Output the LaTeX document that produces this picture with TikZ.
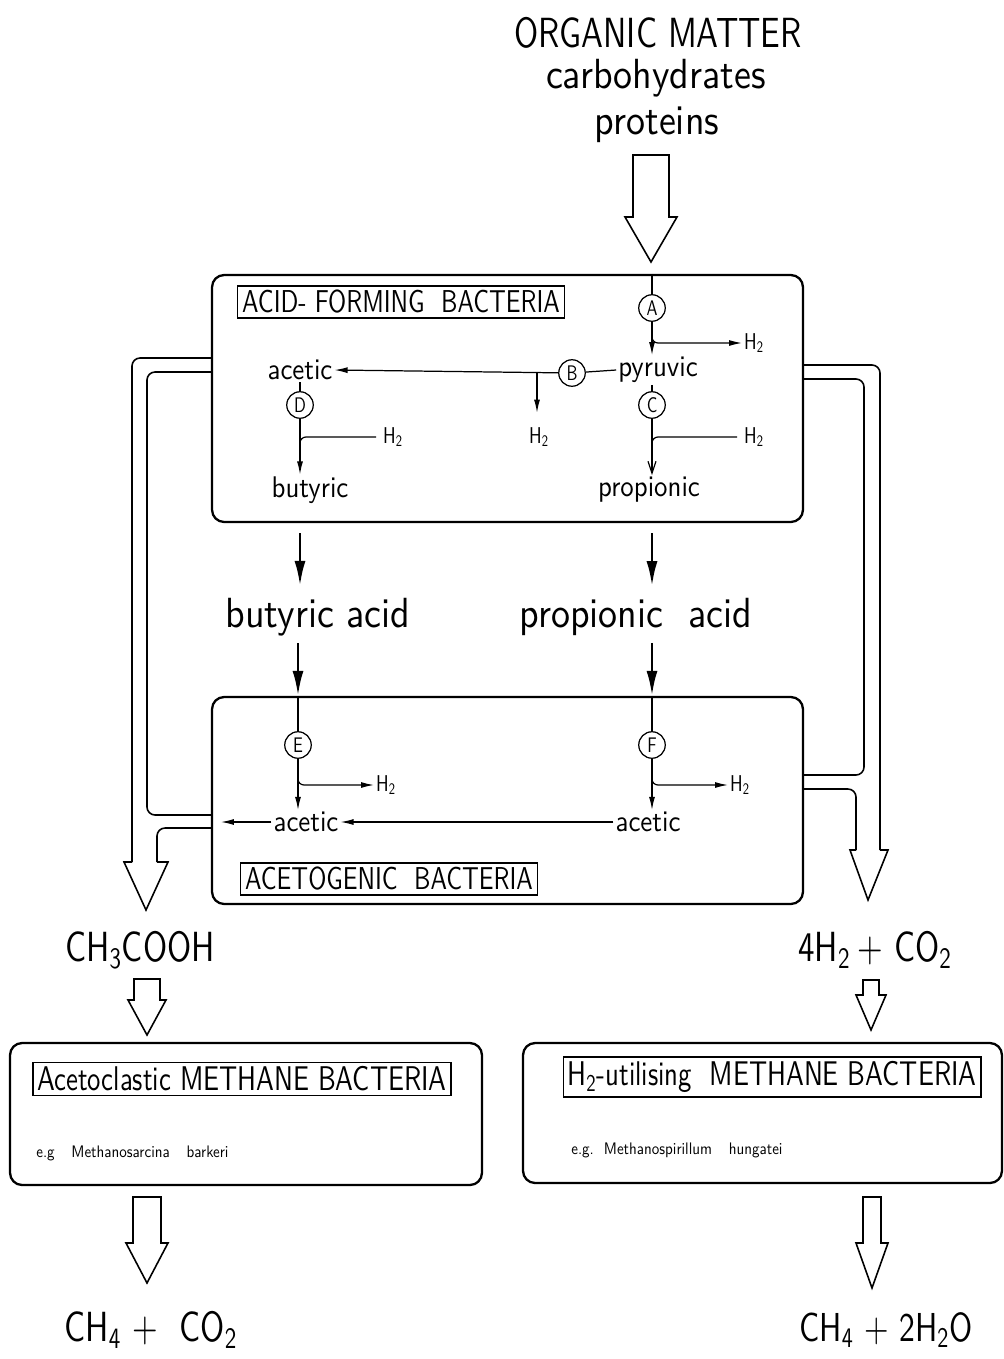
\documentclass[tikz,border=0pt]{standalone}
\usepackage{fontspec}
\setmainfont{lmsans10-regular.otf}[FakeStretch=0.9]
\newfontfamily\narrowfont{lmsans10-regular.otf}[FakeStretch=0.78]
\usetikzlibrary{arrows.meta,positioning,calc}
\newcommand\fs[1]{\fontsize{#1}{#1}\selectfont}
% hollow block arrow: x, top, head base, tip, half shaft, half head
\newcommand\fatarrow[6]{%
  \draw[fatline] (#1-#5,#2) -- (#1+#5,#2) -- (#1+#5,#3) -- (#1+#6,#3) -- (#1,#4)
    -- (#1-#6,#3) -- (#1-#5,#3) -- cycle;}
\tikzset{
  stagebox/.style={draw, line width=1.3pt, rounded corners=2.4mm, inner sep=0pt},
  titlebox/.style={draw, line width=0.7pt, font=\narrowfont\fs{18}, inner sep=2.5pt},
  enzyme/.style={draw, circle, line width=0.7pt, minimum size=5.3mm, inner sep=0pt, font=\narrowfont\fs{12}},
  chem/.style={font=\fs{17}, inner sep=1pt},
  htwo/.style={font=\narrowfont\fs{13}, inner sep=1pt},
  bigtext/.style={font=\fs{24}, inner sep=1pt},
  bigcaps/.style={font=\narrowfont\fs{24}, inner sep=1pt},
  example/.style={font=\fs{9.5}, inner sep=0pt},
  flow/.style={-{Latex[length=2.6mm,width=1.2mm]}, line width=0.7pt},
  plainflow/.style={line width=0.7pt},
  barbflow/.style={-{Straight Barb[length=2.4mm,width=1.6mm]}, line width=0.7pt},
  boldflow/.style={-{Latex[length=5mm,width=2.2mm]}, line width=1.6pt},
  pipe/.style={line width=0.9pt, rounded corners=1.6mm},
  fatline/.style={line width=0.9pt, line join=miter}
}
\begin{document}
\begin{tikzpicture}[x=0.02cm, y=-0.02cm]
  \useasboundingbox (0,0) rectangle (1004,1359);

  % feed
  \node[bigcaps, anchor=base] (organic) at (658,47) {ORGANIC MATTER};
  \node[bigtext, anchor=base] (carbo) at (656,88) {carbohydrates};
  \node[bigtext, anchor=base] (proteins) at (657,134) {proteins};
  \fatarrow{651}{155}{217}{262}{18}{26}

  % acid-forming stage
  \node[stagebox, minimum width=11.82cm, minimum height=4.94cm] (acidbox) at (507.5,398.5) {};
  \node[titlebox] (acidlabel) at (401,302) {ACID- FORMING\ \ BACTERIA};
  \node[enzyme] (enzA) at (652,308) {A};
  \node[chem] (pyruvic) at (658,370) {pyruvic};
  \node[enzyme] (enzB) at (572,373) {B};
  \node[chem] (aceticA) at (300,370) {acetic};
  \node[enzyme] (enzD) at (300,405) {D};
  \node[chem] (butyricA) at (310,490) {butyric};
  \node[enzyme] (enzC) at (652,405) {C};
  \node[chem] (propionicA) at (649,490) {propionic};
  \node[htwo] (hA) at (754,343) {H\textsubscript{2}};
  \node[htwo] (hB) at (539,437) {H\textsubscript{2}};
  \node[htwo] (hD) at (393,437) {H\textsubscript{2}};
  \node[htwo] (hC) at (754,437) {H\textsubscript{2}};
  \coordinate (bsplit) at (537,373);

  \draw[plainflow] (enzA.north |- acidbox.north) -- (enzA);
  \draw[flow] (enzA) -- (pyruvic.north -| enzA);
  \draw[flow, rounded corners=1.2mm] ($(enzA.south)+(0,8)$) |- (hA.west);
  \draw[plainflow] (pyruvic.west) -- (enzB);
  \draw[flow] (enzB) -- (aceticA.east);
  \draw[flow, shorten >=2.5mm] (bsplit) -- (hB.north -| bsplit);
  \draw[plainflow] (aceticA.south -| enzD) -- (enzD);
  \draw[flow] (enzD) -- (butyricA.north -| enzD);
  \draw[plainflow, rounded corners=1.2mm, shorten <=1mm] (hD.west) -| ($(enzD.south)+(0,40)$);
  \draw[plainflow] (pyruvic.south -| enzC) -- (enzC);
  \draw[barbflow] (enzC) -- (propionicA.north -| enzC);
  \draw[plainflow, rounded corners=1.2mm, shorten <=1mm] (hC.west) -| ($(enzC.south)+(0,40)$);

  % intermediates
  \node[bigtext] (butacid) at (318,617) {butyric\ acid};
  \node[bigtext] (propacid) at (636,617) {propionic\ \ acid};
  \draw[boldflow, shorten <=2mm, shorten >=2mm] (acidbox.south -| enzD) -- (butacid.north -| enzD);
  \draw[boldflow, shorten <=2mm, shorten >=2mm] (acidbox.south -| enzC) -- (propacid.north -| enzC);

  % acetogenic stage
  \node[stagebox, minimum width=11.82cm, minimum height=4.14cm] (acetobox) at (507.5,800.5) {};
  \node[titlebox] (acetolabel) at (389,879) {ACETOGENIC\ \ BACTERIA};
  \node[enzyme] (enzE) at (298,745) {E};
  \node[enzyme] (enzF) at (652,745) {F};
  \node[chem] (aceticB) at (306,822) {acetic};
  \node[chem] (aceticC) at (648,822) {acetic};
  \node[htwo] (hE) at (386,785) {H\textsubscript{2}};
  \node[htwo] (hF) at (740,785) {H\textsubscript{2}};

  \draw[boldflow, shorten <=1mm] (butacid.south -| enzE) -- (acetobox.north -| enzE);
  \draw[boldflow, shorten <=1mm] (propacid.south -| enzF) -- (acetobox.north -| enzF);
  \draw[plainflow] (enzE.north |- acetobox.north) -- (enzE);
  \draw[flow] (enzE) -- (aceticB.north -| enzE);
  \draw[flow, rounded corners=1.2mm] ($(enzE.south)+(0,12)$) |- (hE.west);
  \draw[plainflow] (enzF.north |- acetobox.north) -- (enzF);
  \draw[flow] (enzF) -- (aceticC.north -| enzF);
  \draw[flow, rounded corners=1.2mm] ($(enzF.south)+(0,12)$) |- (hF.west);
  \draw[flow] (aceticC.west) -- (aceticB.east);
  \draw[flow, shorten >=2mm] (aceticB.west) -- (acetobox.west |- aceticB);

  % acetate pipe
  \draw[pipe] (acidbox.west |- 0,358) -| (132,862);
  \draw[pipe] (acidbox.west |- 0,372) -- (147,372) -- (147,815) -- (acetobox.west |- 0,815);
  \draw[pipe] (acetobox.west |- 0,828) -| (157,862);
  \draw[fatline] (132,862) -- (124,862) -- (146,910) -- (168,862) -- (157,862);

  % hydrogen pipe
  \draw[pipe] (acidbox.east |- 0,365) -| (880,850);
  \draw[pipe] (acidbox.east |- 0,379) -- (864,379) -- (864,775) -- (acetobox.east |- 0,775);
  \draw[pipe] (acetobox.east |- 0,789) -| (856,850);
  \draw[fatline] (856,850) -- (850,850) -- (868,900) -- (888,850) -- (880,850);

  % methanogenic stage
  \node[bigcaps] (acetate) at (140,950) {CH\textsubscript{3}COOH};
  \node[bigcaps] (hydrogen) at (875,950) {4H\textsubscript{2}\,+\ CO\textsubscript{2}};
  \fatarrow{147}{979}{1000}{1035}{13}{19}
  \fatarrow{871}{980}{995}{1030}{8}{15}

  \node[stagebox, minimum width=9.44cm, minimum height=2.84cm] (acetoclast) at (246,1114) {};
  \node[stagebox, minimum width=9.58cm, minimum height=2.8cm] (h2util) at (762.5,1113) {};
  \node[titlebox, font=\narrowfont\fs{19.5}] (acetoclastlabel) at (242,1079) {Acetoclastic METHANE BACTERIA};
  \node[titlebox, font=\narrowfont\fs{19.5}] (h2utillabel) at (772,1077) {H\textsubscript{2}-utilising\ \ METHANE BACTERIA};
  \node[example, anchor=west] (sarcina) at (36,1153) {e.g\quad Methanosarcina\quad barkeri};
  \node[example, anchor=west] (spirillum) at (571,1150) {e.g.\ \ Methanospirillum\quad hungatei};

  \fatarrow{147}{1197}{1243}{1283}{14}{21}
  \fatarrow{872}{1197}{1243}{1288}{9}{16}
  \node[bigcaps] (methaneA) at (151,1330) {CH\textsubscript{4}\ +\ \ CO\textsubscript{2}};
  \node[bigcaps, font=\narrowfont\fs{23}] (methaneB) at (886,1330) {CH\textsubscript{4}\ +\ 2H\textsubscript{2}O};
\end{tikzpicture}
\end{document}
